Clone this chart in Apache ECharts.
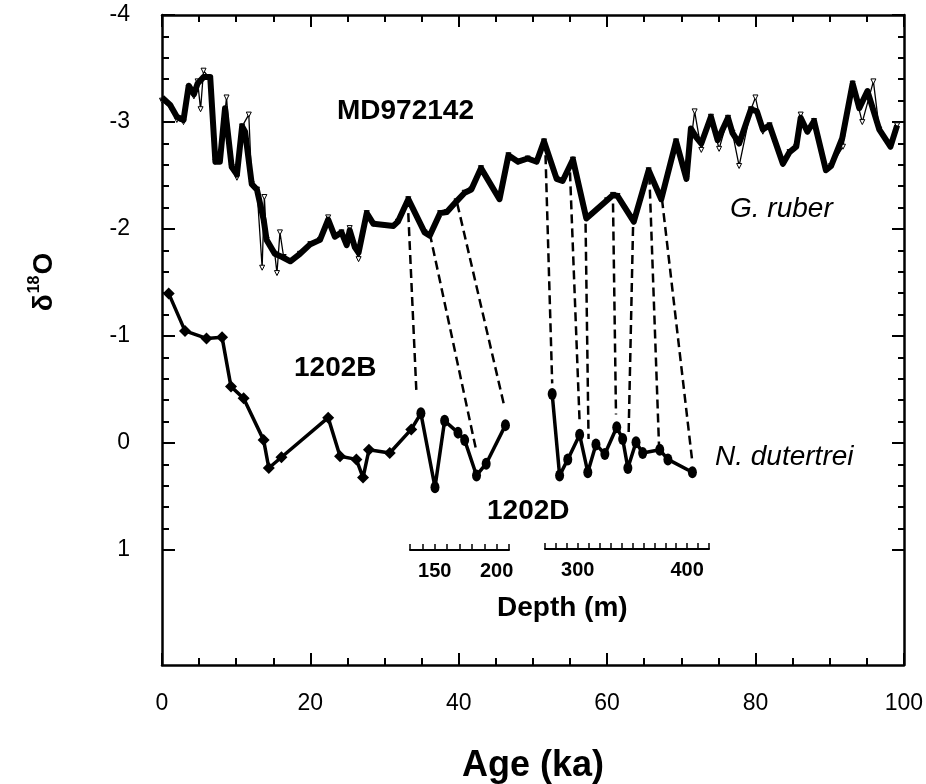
<!DOCTYPE html>
<html><head><meta charset="utf-8">
<script src="https://cdn.jsdelivr.net/npm/echarts@6/dist/echarts.min.js"></script>
<style>html,body{margin:0;padding:0;background:#fff}#c{width:926px;height:784px}</style>
</head><body><div id="c"></div>
<script>
// ---- data ----
const ageTicks = [0, 20, 40, 60, 80, 100];
const d18Ticks = [-4, -3, -2, -1, 0, 1];
// G. ruber (MD972142) thick record
const rubThickAge = [0,1.1,2.0,2.9,3.6,4.3,4.8,5.6,6.5,7.2,7.8,8.5,9.4,10.1,10.8,11.2,12.1,12.8,13.7,14.1,15.2,16.2,17.3,18.6,20.0,21.3,22.4,23.3,24.2,24.9,25.3,26.0,26.5,27.6,28.5,31.2,31.8,33.2,35.4,36.1,37.5,38.4,39.7,40.8,41.7,43.0,45.5,46.7,48.0,49.3,50.5,51.5,53.2,54.0,55.4,57.2,60.0,60.8,61.4,63.6,65.6,67.3,69.3,70.7,71.3,72.0,72.7,74.0,74.9,76.3,76.9,77.8,79.4,80.2,81.0,81.9,83.7,84.6,85.5,86.1,87.0,87.9,89.5,90.2,91.7,93.1,94.0,95.1,96.7,98.2,99.1];
const rubThickVal = [-3.23,-3.16,-3.05,-3.02,-3.34,-3.26,-3.36,-3.42,-3.42,-2.63,-2.63,-3.13,-2.58,-2.51,-2.96,-2.91,-2.42,-2.37,-2.09,-1.90,-1.77,-1.74,-1.70,-1.77,-1.86,-1.90,-2.09,-1.93,-1.97,-1.85,-1.99,-1.83,-1.78,-2.15,-2.05,-2.03,-2.07,-2.28,-1.97,-1.94,-2.15,-2.16,-2.26,-2.34,-2.37,-2.57,-2.28,-2.69,-2.63,-2.66,-2.63,-2.82,-2.47,-2.45,-2.65,-2.10,-2.27,-2.32,-2.31,-2.07,-2.55,-2.28,-2.82,-2.47,-2.94,-2.86,-2.80,-3.05,-2.83,-3.04,-2.90,-2.80,-3.12,-3.10,-2.93,-2.97,-2.61,-2.72,-2.77,-3.04,-2.91,-3.01,-2.55,-2.59,-2.85,-3.36,-3.13,-3.29,-2.93,-2.77,-2.97];
// G. ruber thin record
const rubThinAge = [0,1.1,2.0,2.9,3.6,4.3,4.8,5.2,5.6,6.5,7.2,7.8,8.7,9.4,10.1,10.8,11.7,12.1,12.8,13.5,13.8,14.1,15.2,15.5,15.9,16.4,17.3,18.6,20.0,21.3,22.4,23.3,24.2,24.9,25.3,26.0,26.5,27.6,28.5,31.2,31.8,33.2,35.4,36.1,37.5,38.4,39.7,40.8,41.7,43.0,45.5,46.7,48.0,49.3,50.5,51.5,53.2,54.0,55.4,57.2,60.0,60.8,61.4,63.6,65.6,67.3,69.3,70.7,71.8,72.7,74.0,75.1,76.3,76.9,77.8,79.4,80.0,81.0,81.9,83.7,84.6,85.5,86.1,87.0,87.9,89.5,90.2,91.8,93.1,94.4,95.9,96.7,98.2,99.1];
const rubThinVal = [-3.20,-3.14,-3.02,-3.00,-3.32,-3.24,-3.38,-3.12,-3.48,-3.40,-2.63,-2.65,-3.23,-2.58,-2.48,-2.96,-3.07,-2.42,-2.37,-1.64,-2.30,-1.90,-1.77,-1.59,-1.97,-1.74,-1.70,-1.77,-1.86,-1.90,-2.11,-1.93,-1.97,-1.85,-2.01,-1.83,-1.72,-2.15,-2.05,-2.03,-2.07,-2.28,-1.97,-1.94,-2.15,-2.16,-2.26,-2.34,-2.37,-2.57,-2.28,-2.69,-2.63,-2.66,-2.63,-2.82,-2.47,-2.45,-2.65,-2.10,-2.27,-2.32,-2.31,-2.07,-2.55,-2.28,-2.82,-2.47,-3.10,-2.74,-3.05,-2.75,-3.04,-2.90,-2.59,-3.12,-3.23,-2.91,-2.97,-2.61,-2.72,-2.77,-3.07,-2.91,-3.01,-2.55,-2.59,-2.77,-3.36,-3.00,-3.38,-2.93,-2.77,-2.97];
// N. dutertrei, hole 1202B
const b1202Age = [0.9,3.1,6.0,8.1,9.3,11.0,13.7,14.4,16.1,22.4,24.0,26.2,27.1,27.9,30.7,33.6];
const b1202Val = [-1.40,-1.05,-0.98,-0.99,-0.53,-0.42,-0.03,0.23,0.13,-0.24,0.12,0.15,0.32,0.06,0.09,-0.13];
// N. dutertrei, hole 1202D (two segments)
const d1202AgeA = [34.9,36.8,38.1,39.9,40.8,42.4,43.7,46.3];
const d1202ValA = [-0.28,0.41,-0.21,-0.10,-0.03,0.30,0.19,-0.17];
const d1202AgeB = [52.6,53.6,54.7,56.3,57.4,58.5,59.7,61.3,62.1,62.8,63.9,64.8,67.1,68.2,71.5];
const d1202ValB = [-0.46,0.30,0.15,-0.08,0.27,0.01,0.10,-0.15,-0.04,0.23,-0.01,0.09,0.06,0.15,0.27];
// tie lines
const tieTopAge = [33.2,36.1,39.8,51.7,55.0,57.1,60.8,63.5,65.7,67.4];
const tieTopVal = [-2.15,-1.96,-2.24,-2.69,-2.53,-2.05,-2.24,-2.02,-2.50,-2.28];
const tieBotAge = [34.3,42.4,46.2,52.6,56.3,57.5,61.2,62.9,67.0,71.5];
const tieBotVal = [-0.47,0.08,-0.33,-0.56,-0.19,-0.04,-0.27,-0.08,0.02,0.18];
// depth scale labels
const depthLabelsA = [150, 200];
const depthLabelsB = [300, 400];

// ---- chart ----
const FONT = 'Arial, "Liberation Sans", Helvetica, sans-serif';
const BLACK = '#000';
const zip = (a, b) => a.map((x, i) => [x, b[i]]);

const bData = b1202Age.map((x, i) => ({ value: [x, b1202Val[i]], symbol: 'diamond', symbolSize: 12 }));
const dAData = d1202AgeA.map((x, i) => ({ value: [x, d1202ValA[i]], symbol: 'circle', symbolSize: [9, 12] }));
const dBData = d1202AgeB.map((x, i) => ({ value: [x, d1202ValB[i]], symbol: 'circle', symbolSize: [9, 12] }));
const tieData = tieTopAge.map((x, i) => ({ coords: [[x, tieTopVal[i]], [tieBotAge[i], tieBotVal[i]]] }));

const chart = echarts.init(document.getElementById('c'), null, { renderer: 'canvas' });

const mainX = (pos, labels) => ({
  gridIndex: 0, type: 'value', position: pos, min: 0, max: 100, interval: 20,
  axisLine: { show: true, onZero: false, lineStyle: { color: BLACK, width: 2.5 } },
  axisTick: { show: true, inside: true, length: 12, lineStyle: { color: BLACK, width: 2 } },
  minorTick: { show: true, splitNumber: 4, length: 7, lineStyle: { color: BLACK, width: 2 } },
  axisLabel: { show: labels, fontSize: 23, color: BLACK, fontFamily: FONT, margin: 27 },
  splitLine: { show: false }
});
const mainY = (pos) => ({
  gridIndex: 0, type: 'value', position: pos, min: -4, max: 2.07, inverse: true,
  axisLine: { show: true, onZero: false, lineStyle: { color: BLACK, width: 2.5 } },
  axisTick: { show: false }, axisLabel: { show: false }, splitLine: { show: false }
});
const tickY = (pos, labels) => ({
  gridIndex: 1, type: 'value', position: pos, min: -4, max: 1, interval: 1, inverse: true,
  axisLine: { show: false, onZero: false },
  axisTick: { show: true, inside: true, length: 13, lineStyle: { color: BLACK, width: 2 } },
  minorTick: { show: true, splitNumber: 5, length: 7, lineStyle: { color: BLACK, width: 2 } },
  axisLabel: { show: labels, fontSize: 23, color: BLACK, fontFamily: FONT, margin: 32,
    formatter: v => d18Ticks.includes(v) ? String(v) : '' },
  splitLine: { show: false }
});
const depthX = (grid, min, max, labels) => ({
  gridIndex: grid, type: 'value', position: 'bottom', min: min, max: max, interval: 10,
  axisLine: { show: true, onZero: false, lineStyle: { color: BLACK, width: 2 } },
  axisTick: { show: true, inside: true, length: 6, lineStyle: { color: BLACK, width: 1.5 } },
  axisLabel: { show: true, fontSize: 20, fontWeight: 'bold', color: BLACK, fontFamily: FONT, margin: 11,
    formatter: v => labels.includes(v) ? String(v) : '' },
  splitLine: { show: false }
});
const hiddenY = (grid) => ({ gridIndex: grid, type: 'value', show: false, min: 0, max: 1 });

const txt = (x, y, text, size, weight, style, align) => ({
  type: 'text', x: x, y: y, silent: true,
  style: { text: text, fill: BLACK, font: `${style || 'normal'} ${weight || 'normal'} ${size}px ${FONT}`,
    align: align || 'left', verticalAlign: 'middle' }
});

chart.setOption({
  animation: false,
  backgroundColor: '#fff',
  grid: [
    { left: 162, right: 21, top: 15, bottom: 119 },
    { left: 162, right: 21, top: 15, height: 535 },
    { left: 410, width: 99, top: 549, height: 1 },
    { left: 545, width: 164, top: 548, height: 1 }
  ],
  xAxis: [
    mainX('bottom', true),
    mainX('top', false),
    { gridIndex: 1, type: 'value', show: false, min: 0, max: 100 },
    depthX(2, 130, 210, depthLabelsA),
    depthX(3, 270, 420, depthLabelsB)
  ],
  yAxis: [
    mainY('left'), mainY('right'),
    tickY('left', true), tickY('right', false),
    hiddenY(2), hiddenY(3)
  ],
  graphic: [
    txt(337, 111, 'MD972142', 28, 'bold'),
    txt(730, 209, 'G. ruber', 28, 'normal', 'italic'),
    txt(294, 368, '1202B', 28, 'bold'),
    txt(715, 457, 'N. dutertrei', 28, 'normal', 'italic'),
    txt(487, 511, '1202D', 28, 'bold'),
    txt(497, 608, 'Depth (m)', 28, 'bold'),
    txt(533, 766, 'Age (ka)', 36, 'bold', 'normal', 'center'),
    {
      type: 'text', x: 44, y: 282, rotation: Math.PI / 2, silent: true,
      style: {
        text: '{a|δ}{s|18}{a|O}', align: 'center', verticalAlign: 'middle',
        rich: {
          a: { fontSize: 28, fontWeight: 'bold', fontFamily: FONT, fill: BLACK, lineHeight: 34 },
          s: { fontSize: 16, fontWeight: 'bold', fontFamily: FONT, fill: BLACK, verticalAlign: 'top', lineHeight: 34, padding: [0, 1, 0, 1] }
        }
      }
    }
  ],
  series: [
    {
      type: 'lines', coordinateSystem: 'cartesian2d', xAxisIndex: 0, yAxisIndex: 0, z: 1,
      silent: true, polyline: false,
      lineStyle: { color: BLACK, width: 2.5, type: [9, 5], opacity: 1 },
      data: tieData
    },
    {
      type: 'line', xAxisIndex: 0, yAxisIndex: 0, z: 2, silent: true,
      data: zip(rubThinAge, rubThinVal),
      symbol: 'triangle', symbolRotate: 180, symbolSize: 5, showAllSymbol: true,
      itemStyle: { color: '#fff', borderColor: BLACK, borderWidth: 1 },
      lineStyle: { color: BLACK, width: 1.3 }
    },
    {
      type: 'line', xAxisIndex: 0, yAxisIndex: 0, z: 3, silent: true,
      data: zip(rubThickAge, rubThickVal), showSymbol: false, symbol: 'none',
      lineStyle: { color: BLACK, width: 6, join: 'round' }
    },
    {
      type: 'line', xAxisIndex: 0, yAxisIndex: 0, z: 3, silent: true,
      data: bData.concat(dAData), showAllSymbol: true,
      itemStyle: { color: BLACK }, lineStyle: { color: BLACK, width: 3.5 }
    },
    {
      type: 'line', xAxisIndex: 0, yAxisIndex: 0, z: 3, silent: true,
      data: dBData, showAllSymbol: true,
      itemStyle: { color: BLACK }, lineStyle: { color: BLACK, width: 3.5 }
    }
  ]
});
</script></body></html>
